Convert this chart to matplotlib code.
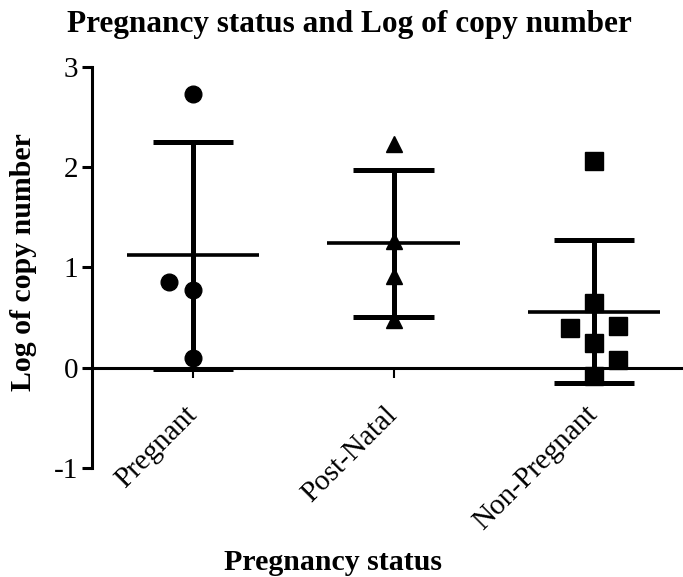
import matplotlib
matplotlib.use('Agg')
import matplotlib.pyplot as plt

categories = ['Pregnant', 'Post-Natal', 'Non-Pregnant']

pregnant = [2.73, 0.85, 0.77, 0.10]
post_natal = [2.23, 1.26, 0.91, 0.48]
non_pregnant = [2.06, 0.65, 0.40, 0.42, 0.25, 0.08, -0.08]

means = [1.12, 1.24, 0.56]
sds = [1.13, 0.73, 0.71]

# horizontal spread of points within each column (scatter layout)
offsets = [[0, -0.12, 0, 0],
           [0, 0, 0, 0],
           [0, 0, -0.12, 0.12, 0, 0.12, 0]]
markers = ['o', '^', 's']
sizes = [12, 12, 12.5]

plt.rcParams['font.family'] = ['Liberation Serif', 'DejaVu Serif']
plt.rcParams['axes.unicode_minus'] = False

fig = plt.figure(figsize=(6.83, 5.77), dpi=100)
ax = fig.add_axes([0.1347, 0.189, 0.8653, 0.695])

groups = [pregnant, post_natal, non_pregnant]
for i, vals in enumerate(groups):
    x = i + 1
    xs = [x + o for o in offsets[i]]
    ax.plot(xs, vals, linestyle='none', marker=markers[i], color='black',
            markersize=sizes[i], zorder=3)
    ax.hlines(means[i], x - 0.33, x + 0.33, color='black', lw=2.6, zorder=2)
    ax.vlines(x, means[i] - sds[i], means[i] + sds[i], color='black',
              lw=3.6, zorder=2)
    ax.hlines([means[i] - sds[i], means[i] + sds[i]], x - 0.2, x + 0.2,
              color='black', lw=3.6, zorder=2)

ax.spines['top'].set_visible(False)
ax.spines['right'].set_visible(False)
ax.spines['bottom'].set_position(('data', 0))
ax.spines['bottom'].set_linewidth(2.2)
ax.spines['left'].set_linewidth(2.2)
ax.spines['left'].set_bounds(-1, 3)

ax.set_xlim(0.495, 3.445)
ax.set_ylim(-1, 3)
ax.set_yticks([-1, 0, 1, 2, 3])
ax.set_xticks([1, 2, 3])
ax.set_xticklabels(categories, rotation=45, ha='right', va='center',
                   rotation_mode='anchor', fontsize=21)
ax.tick_params(axis='y', labelsize=21, width=2.2, length=7, pad=3)
ax.tick_params(axis='x', width=1.5, length=7, pad=24)

fig.text(0.512, 0.945, 'Pregnancy status and Log of copy number',
         ha='center', va='baseline', fontsize=22.5, fontweight='bold')
fig.text(0.035, 0.546, 'Log of copy number', rotation=90,
         ha='center', va='center', fontsize=21.5, fontweight='bold')
fig.text(0.4875, 0.012, 'Pregnancy status',
         ha='center', va='baseline', fontsize=21.5, fontweight='bold')

fig.savefig('out.png', dpi=100)
